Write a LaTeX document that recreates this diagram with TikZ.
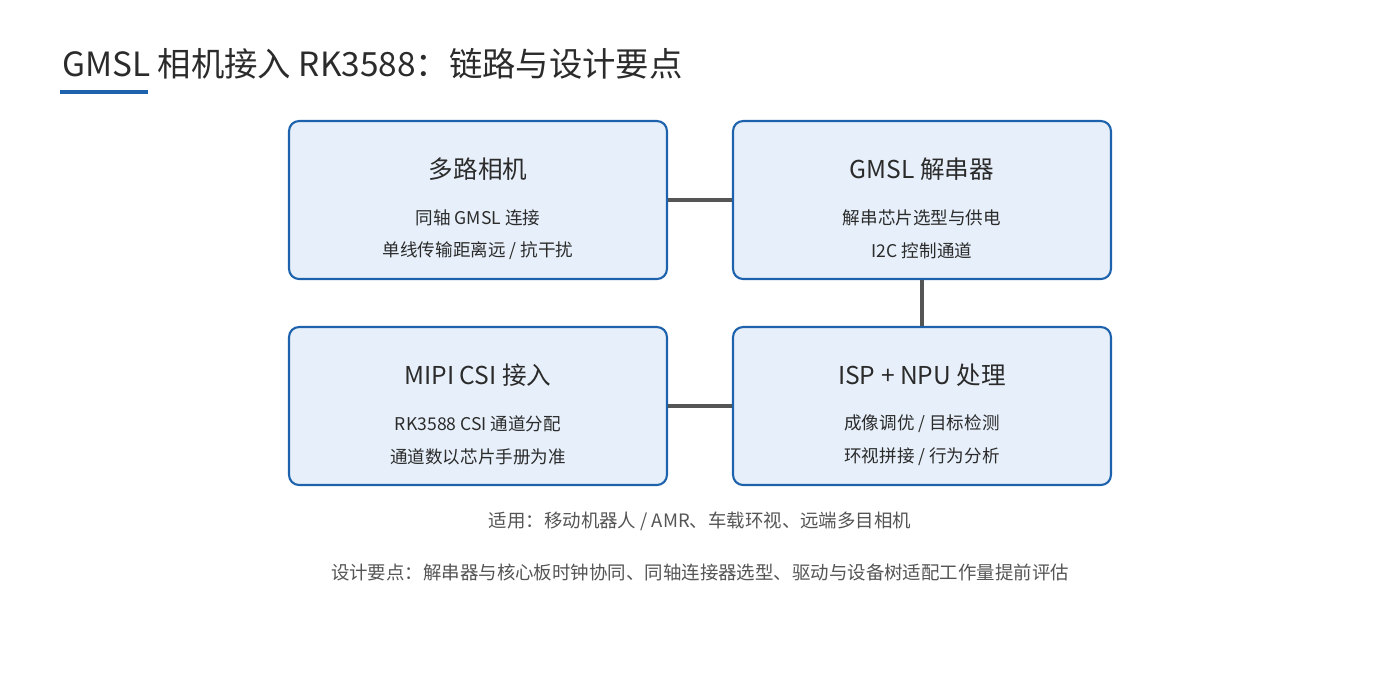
\documentclass[tikz,border=0pt]{standalone}
\usepackage{fontspec}
\setmainfont{Noto Sans CJK SC}
\usetikzlibrary{positioning}
\definecolor{frame}{HTML}{1E62AE}
\definecolor{panel}{HTML}{E7F0FA}
\definecolor{ink}{HTML}{2B2B2B}
\definecolor{link}{HTML}{555555}
\definecolor{note}{HTML}{555555}

\begin{document}
\begin{tikzpicture}[
x=0.02cm,y=-0.02cm,
text=ink,
card/.style={%
    rectangle,rounded corners=2mm,
    minimum width=7.56cm,minimum height=3.16cm,
    draw=frame,line width=1.2pt,fill=panel,
},
head/.style={font=\fontsize{14}{16}\selectfont},
line/.style={font=\fontsize{10}{12}\selectfont},
foot/.style={font=\fontsize{10.5}{12}\selectfont,text=note},
wire/.style={draw=link,line width=1.8pt},
]
\useasboundingbox (0,0) rectangle (1400,700);
% Title
\node[anchor=west,font=\fontsize{19}{22}\selectfont] at (56,64) (title)
    {GMSL 相机接入 RK3588：链路与设计要点};
\fill[frame] (60,90) rectangle (148,94);

% Cards
\node[card] at (478,200) (cams)   {};
\node[card] at (922,200) (deser)  {};
\node[card] at (478,406) (mipi)   {};
\node[card] at (922,406) (isp)    {};

\node[head] at (478,169) (camshead)  {多路相机};
\node[line] at (478,218) (camsa)     {同轴 GMSL 连接};
\node[line] at (478,251) (camsb)     {单线传输距离远 / 抗干扰};

\node[head] at (922,169) (deserhead) {GMSL 解串器};
\node[line] at (922,218) (desera)    {解串芯片选型与供电};
\node[line] at (922,251) (deserb)    {I2C 控制通道};

\node[head] at (478,375) (mipihead)  {MIPI CSI 接入};
\node[line] at (478,424) (mipia)     {RK3588 CSI 通道分配};
\node[line] at (478,457) (mipib)     {通道数以芯片手册为准};

\node[head] at (922,375) (isphead)   {ISP + NPU 处理};
\node[line] at (922,424) (ispa)      {成像调优 / 目标检测};
\node[line] at (922,457) (ispb)      {环视拼接 / 行为分析};

% Links
\draw[wire] (cams) -- (deser);
\draw[wire] (deser) -- (isp);
\draw[wire] (mipi) -- (isp);

% Notes
\node[foot] at (700,521) (usage) {适用：移动机器人 / AMR、车载环视、远端多目相机};
\node[foot] at (700,572) (tips)  {设计要点：解串器与核心板时钟协同、同轴连接器选型、驱动与设备树适配工作量提前评估};
\end{tikzpicture}
\end{document}
